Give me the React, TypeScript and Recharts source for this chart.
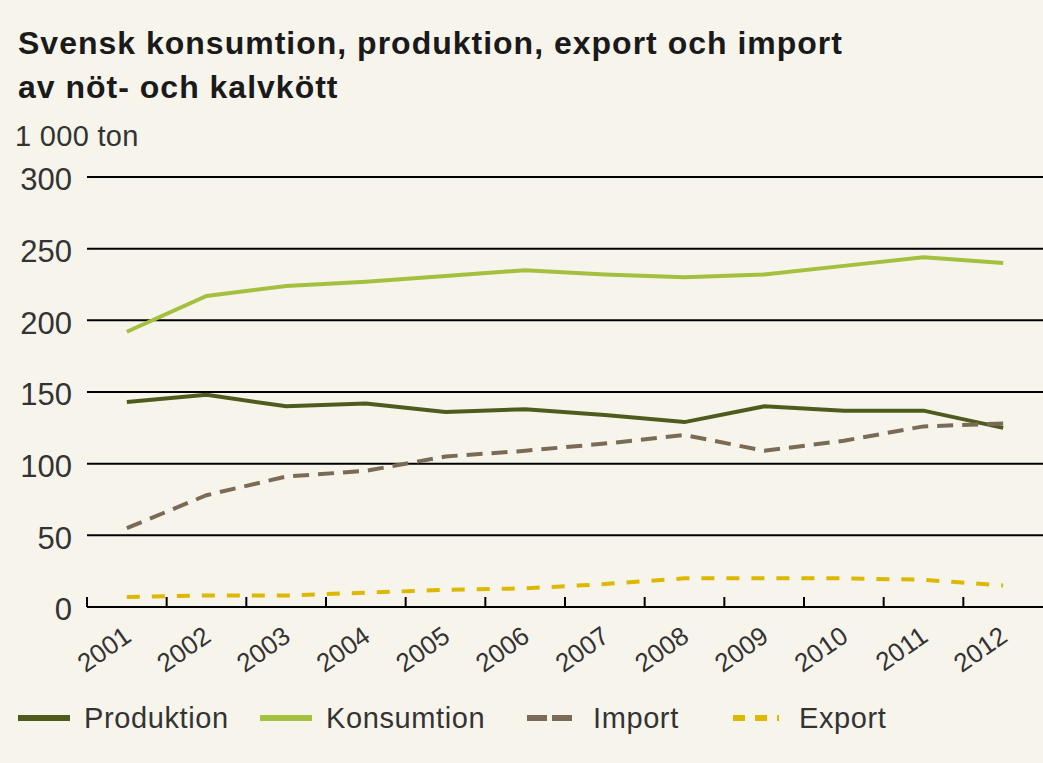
import { CartesianGrid, Line, LineChart, XAxis, YAxis } from "recharts";

const years = ["2001", "2002", "2003", "2004", "2005", "2006", "2007", "2008", "2009", "2010", "2011", "2012"];
const produktion = [143, 148, 140, 142, 136, 138, 134, 129, 140, 137, 137, 125];
const konsumtion = [192, 217, 224, 227, 231, 235, 232, 230, 232, 238, 244, 240];
const importVals = [55, 78, 91, 95, 105, 109, 114, 120, 109, 116, 126, 128];
const exportVals = [7, 8, 8, 10, 12, 13, 16, 20, 20, 20, 19, 15];
const yTicks = [0, 50, 100, 150, 200, 250, 300];

const W = 1043;
const H = 763;
const PLOT_LEFT = 87;
const BAND = (W - PLOT_LEFT) / years.length;
const FONT = '"Liberation Sans", Arial, sans-serif';

const series = [
  { key: "produktion", name: "Produktion", color: "#4d5c1d", dash: undefined as string | undefined, legendDash: undefined as string | undefined },
  { key: "konsumtion", name: "Konsumtion", color: "#a3c03f", dash: undefined as string | undefined, legendDash: undefined as string | undefined },
  { key: "import", name: "Import", color: "#7a6b56", dash: "16 9", legendDash: "20 5" },
  { key: "export", name: "Export", color: "#dcb800", dash: "13 12", legendDash: "12 10" }
];

const data = years.map((year, i) => ({
  year,
  produktion: produktion[i],
  konsumtion: konsumtion[i],
  import: importVals[i],
  export: exportVals[i]
}));

function YearTick(props: any) {
  const { x, y, payload } = props;
  const left = x - BAND / 2;
  return (
    <g>
      <line x1={left} x2={left} y1={y - 10} y2={y} stroke="#000" strokeWidth={2} />
      <text
        transform={`translate(${x + 6},${y + 33}) rotate(-35)`}
        textAnchor="end"
        fill="#333"
        fontSize={26}
        fontFamily={FONT}
      >
        {payload.value}
      </text>
    </g>
  );
}

function ValueTick(props: any) {
  const { x, y, payload } = props;
  return (
    <text x={x} y={y + 5} textAnchor="end" dominantBaseline="middle" fill="#333" fontSize={31} fontFamily={FONT}>
      {payload.value}
    </text>
  );
}

function LegendRow() {
  const xs = [18, 260, 527, 733];
  return (
    <div style={{ position: "absolute", top: 702, left: 0, width: W, height: 32 }}>
      {series.map((s, i) => (
        <div key={s.key} style={{ position: "absolute", left: xs[i], top: 0, display: "flex", alignItems: "center", height: 32 }}>
          <svg width={52} height={8} style={{ marginRight: 14 }}>
            <line
              x1={0}
              x2={s.legendDash ? 46 : 52}
              y1={4}
              y2={4}
              stroke={s.color}
              strokeWidth={6}
              strokeDasharray={s.legendDash}
            />
          </svg>
          <span style={{ fontSize: 29, letterSpacing: 0.6, color: "#333", fontFamily: FONT }}>{s.name}</span>
        </div>
      ))}
    </div>
  );
}

export default function App() {
  return (
    <div style={{ position: "absolute", left: 0, top: 0, width: W, height: H, background: "#f7f4ec", fontFamily: FONT, overflow: "hidden" }}>
      <div
        style={{
          position: "absolute",
          left: 18,
          top: 21,
          fontSize: 32,
          letterSpacing: 1,
          fontWeight: 700,
          lineHeight: "44px",
          color: "#1a1a1a",
          whiteSpace: "nowrap"
        }}
      >
        Svensk konsumtion, produktion, export och import
        <br />
        av nöt- och kalvkött
      </div>
      <div style={{ position: "absolute", left: 15, top: 120, fontSize: 29, letterSpacing: 0.3, color: "#333" }}>1 000 ton</div>
      <div style={{ position: "absolute", left: 0, top: 0 }}>
        <LineChart width={W} height={H} data={data} margin={{ top: 177, right: 0, bottom: 0, left: 0 }}>
          <CartesianGrid vertical={false} stroke="#000" strokeWidth={2} />
          <XAxis
            dataKey="year"
            scale="band"
            height={156}
            axisLine={{ stroke: "#000", strokeWidth: 2 }}
            tickLine={false}
            tickSize={0}
            tickMargin={0}
            interval={0}
            tick={<YearTick />}
          />
          <YAxis
            width={PLOT_LEFT}
            domain={[0, 300]}
            ticks={yTicks}
            axisLine={false}
            tickLine={false}
            tickSize={0}
            tickMargin={15}
            tick={<ValueTick />}
          />
          {series.map((s) => (
            <Line
              key={s.key}
              type="linear"
              dataKey={s.key}
              name={s.name}
              stroke={s.color}
              strokeWidth={4}
              strokeDasharray={s.dash}
              dot={false}
              activeDot={false}
              isAnimationActive={false}
            />
          ))}
        </LineChart>
      </div>
      <LegendRow />
    </div>
  );
}
